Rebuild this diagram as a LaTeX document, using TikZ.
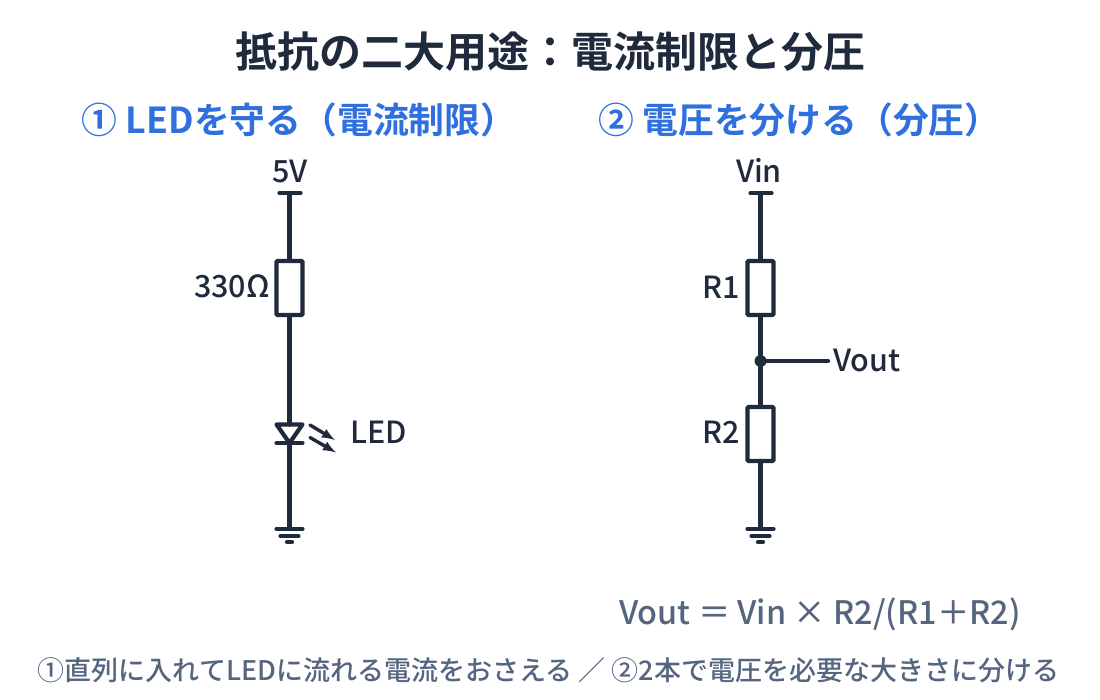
\documentclass[tikz,border=0pt]{standalone}
\usepackage{fontspec}
\setmainfont[BoldFont={Noto Sans CJK JP Bold}]{Noto Sans CJK JP}
\newfontfamily\medfont{Noto Sans CJK JP Medium}
\usetikzlibrary{arrows}

\definecolor{ink}{HTML}{1F2A3C}
\definecolor{headblue}{HTML}{2F6FDE}
\definecolor{slate}{HTML}{55657F}

\tikzset{
  wire/.style={draw=ink,line width=4.2pt,line cap=round},
  res/.style={draw=ink,line width=4.2pt,rounded corners=1pt,fill=white,minimum width=26pt,minimum height=54pt,inner sep=0pt},
  lbl/.style={text=ink,inner sep=0pt,font=\fontsize{30.5}{34}\medfont},
  head/.style={text=headblue,inner sep=0pt,font=\fontsize{35.8}{40}\selectfont\bfseries},
}

\begin{document}
\begin{tikzpicture}[x=1pt,y=-1pt]
  \useasboundingbox (0,0) rectangle (1100,700);

  \node[text=ink,inner sep=0pt,font=\fontsize{42}{46}\selectfont\bfseries] (title) at (550,52) {抵抗の二大用途：電流制限と分圧};
  \node[head] (head1) at (299,120) {① LEDを守る（電流制限）};
  \node[head] (head2) at (799.5,120) {② 電圧を分ける（分圧）};

  % left circuit
  \coordinate (T1) at (289.5,193);
  \coordinate (T1a) at (279.5,193);
  \coordinate (T1b) at (300.5,193);
  \node[res] (R330) at (289.5,288) {};
  \coordinate (La) at (276.5,424.5);
  \coordinate (Lb) at (302.5,424.5);
  \coordinate (Lc) at (289.5,443);
  \coordinate (Lm) at (289.5,424.5);
  \coordinate (Kb1) at (276.5,443);
  \coordinate (Kb2) at (302.5,443);
  \coordinate (G1) at (289.5,529);
  \coordinate (G1a) at (276.5,529);
  \coordinate (G1b) at (302.5,529);
  \coordinate (G1c) at (280.5,536);
  \coordinate (G1d) at (298.5,536);
  \coordinate (G1e) at (287,542);
  \coordinate (G1f) at (292,542);
  \coordinate (A1s) at (310,425);
  \coordinate (A1e) at (335,440);
  \coordinate (A2s) at (310,437.5);
  \coordinate (A2e) at (336,452.5);

  \node[lbl] (v5) at (290,171) {5V};
  \node[lbl,anchor=east] (l330) at (270,286) {330Ω};
  \node[lbl,anchor=west] (lled) at (350,432) {LED};

  \draw[wire] (T1a) -- (T1b);
  \draw[wire] (T1) -- (R330);
  \draw[wire] (R330) -- (Lm);
  \draw[wire,line join=round] (La) -- (Lb) -- (Lc) -- cycle;
  \draw[wire] (Kb1) -- (Kb2);
  \draw[wire] (Lc) -- (G1);
  \draw[wire] (G1a) -- (G1b);
  \draw[wire] (G1c) -- (G1d);
  \draw[wire] (G1e) -- (G1f);
  \draw[wire,line width=3.4pt,-latex] (A1s) -- (A1e);
  \draw[wire,line width=3.4pt,-latex] (A2s) -- (A2e);

  % right circuit
  \coordinate (T2) at (760.5,193);
  \coordinate (T2a) at (750.5,193);
  \coordinate (T2b) at (771.5,193);
  \node[res] (R1) at (760.5,288) {};
  \node[res] (R2) at (760.5,434) {};
  \node[circle,fill=ink,inner sep=0pt,minimum size=12pt] (J) at (760.5,361) {};
  \coordinate (Vo) at (828,361);
  \coordinate (G2) at (760.5,529);
  \coordinate (G2a) at (747.5,529);
  \coordinate (G2b) at (773.5,529);
  \coordinate (G2c) at (751.5,536);
  \coordinate (G2d) at (769.5,536);
  \coordinate (G2e) at (758,542);
  \coordinate (G2f) at (763,542);

  \node[lbl] (vin) at (759,170) {Vin};
  \node[lbl,anchor=east] (lr1) at (740.5,287) {R1};
  \node[lbl,anchor=east] (lr2) at (740.5,432) {R2};
  \node[lbl,anchor=west] (vout) at (833,360) {Vout};

  \draw[wire] (T2a) -- (T2b);
  \draw[wire] (T2) -- (R1);
  \draw[wire] (R1) -- (J);
  \draw[wire] (J) -- (R2);
  \draw[wire] (J) -- (Vo);
  \draw[wire] (R2) -- (G2);
  \draw[wire] (G2a) -- (G2b);
  \draw[wire] (G2c) -- (G2d);
  \draw[wire] (G2e) -- (G2f);

  \node[text=slate,inner sep=0pt,font=\fontsize{32.4}{36}\medfont] (eq) at (820,614) {Vout ＝ Vin × R2/(R1＋R2)};
  \node[text=slate,inner sep=0pt,font=\fontsize{27}{30}\medfont] (note) at (548.5,670) {①直列に入れてLEDに流れる電流をおさえる ／ ②2本で電圧を必要な大きさに分ける};

\end{tikzpicture}
\end{document}
